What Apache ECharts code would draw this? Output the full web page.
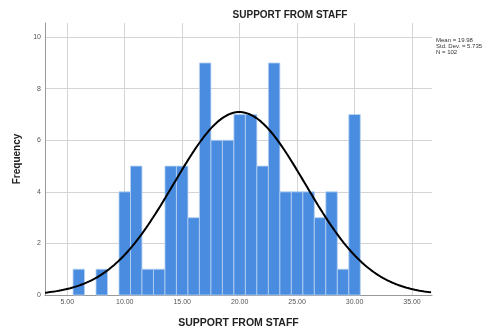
<!DOCTYPE html>
<html>
<head>
<meta charset="utf-8">
<script src="https://cdn.jsdelivr.net/npm/echarts@6/dist/echarts.min.js"></script>
<style>
  html, body { margin: 0; padding: 0; background: #fff; }
  #chart { width: 490px; height: 331px; }
</style>
</head>
<body>
<div id="chart"></div>
<script>
// Histogram bins (bin centre, width 1) and their counts
const binCenters = [6, 7, 8, 9, 10, 11, 12, 13, 14, 15, 16, 17, 18, 19, 20, 21, 22, 23, 24, 25, 26, 27, 28, 29, 30];
const frequencies = [1, 0, 1, 0, 4, 5, 1, 1, 5, 5, 3, 9, 6, 6, 7, 7, 5, 9, 4, 4, 4, 3, 4, 1, 7];

// Summary statistics shown beside the plot
const statMean = 19.98;
const statStdDev = 5.735;
const statN = 102;
const binWidth = 1;

// Axis tick labels
const xTicks = [5, 10, 15, 20, 25, 30, 35];
const yTicks = [0, 2, 4, 6, 8, 10];

const xMin = 3.06, xMax = 36.74;
const yMax = 10.55;

// Normal density scaled to counts, from the stated mean / std. dev. / N
const normalCurve = [];
for (let x = xMin; x <= xMax + 1e-9; x += 0.1) {
  const z = (x - statMean) / statStdDev;
  const y = statN * binWidth / (statStdDev * Math.sqrt(2 * Math.PI)) * Math.exp(-0.5 * z * z);
  normalCurve.push([x, y]);
}

const histData = binCenters.map((c, i) => [c, frequencies[i]]);

const chart = echarts.init(document.getElementById('chart'), null, { renderer: 'canvas' });
chart.setOption({
  animation: false,
  backgroundColor: '#ffffff',
  title: {
    text: 'SUPPORT FROM STAFF',
    left: 285, top: 5, textAlign: 'center',
    textStyle: { fontFamily: 'Liberation Sans, Arial, sans-serif', fontSize: 10, fontWeight: 'bold', color: '#222' }
  },
  graphic: [{
    type: 'text', left: 436, top: 37,
    style: {
      text: 'Mean = ' + statMean.toFixed(2) + '\nStd. Dev. = ' + statStdDev.toFixed(3) + '\nN = ' + statN,
      font: '6px "Liberation Sans", Arial, sans-serif',
      lineHeight: 6,
      fill: '#333'
    }
  }],
  grid: { left: 45, right: 58, top: 23, bottom: 36, containLabel: false, outerBoundsMode: 'none' },
  xAxis: {
    type: 'value', min: xMin, max: xMax,
    name: 'SUPPORT FROM STAFF', nameLocation: 'middle', nameGap: 23,
    nameTextStyle: { fontFamily: 'Liberation Sans, Arial, sans-serif', fontSize: 10.5, fontWeight: 'bold', color: '#222' },
    axisLine: { show: true, lineStyle: { color: '#999', width: 1 } },
    axisTick: { show: false, customValues: xTicks },
    axisLabel: {
      customValues: xTicks,
      formatter: v => v.toFixed(2),
      fontFamily: 'Liberation Sans, Arial, sans-serif', fontSize: 7, color: '#555', margin: 4
    },
    splitLine: { show: true, lineStyle: { color: '#d4d4d4', width: 1 } }
  },
  yAxis: {
    type: 'value', min: 0, max: yMax, interval: 2,
    name: 'Frequency', nameLocation: 'middle', nameGap: 17, nameRotate: 90,
    nameTextStyle: { fontFamily: 'Liberation Sans, Arial, sans-serif', fontSize: 10, fontWeight: 'bold', color: '#222' },
    axisLine: { show: true, lineStyle: { color: '#999', width: 1 } },
    axisTick: { show: false, customValues: yTicks },
    axisLabel: {
      customValues: yTicks,
      fontFamily: 'Liberation Sans, Arial, sans-serif', fontSize: 7, color: '#555', margin: 4
    },
    splitLine: { show: true, lineStyle: { color: '#d4d4d4', width: 1 } }
  },
  series: [
    {
      type: 'custom',
      data: histData,
      renderItem: function (params, api) {
        const c = api.value(0), f = api.value(1);
        if (!f) return null;
        const p0 = api.coord([c - binWidth / 2, f]);
        const p1 = api.coord([c + binWidth / 2, 0]);
        return {
          type: 'rect',
          shape: { x: p0[0], y: p0[1], width: p1[0] - p0[0], height: p1[1] - p0[1] },
          style: { fill: '#4a8de0', stroke: '#b9d2f3', lineWidth: 0.8 }
        };
      },
      z: 2
    },
    {
      type: 'line',
      data: normalCurve,
      showSymbol: false,
      symbol: 'none',
      lineStyle: { color: '#000', width: 2 },
      z: 3
    }
  ]
});
</script>
</body>
</html>
